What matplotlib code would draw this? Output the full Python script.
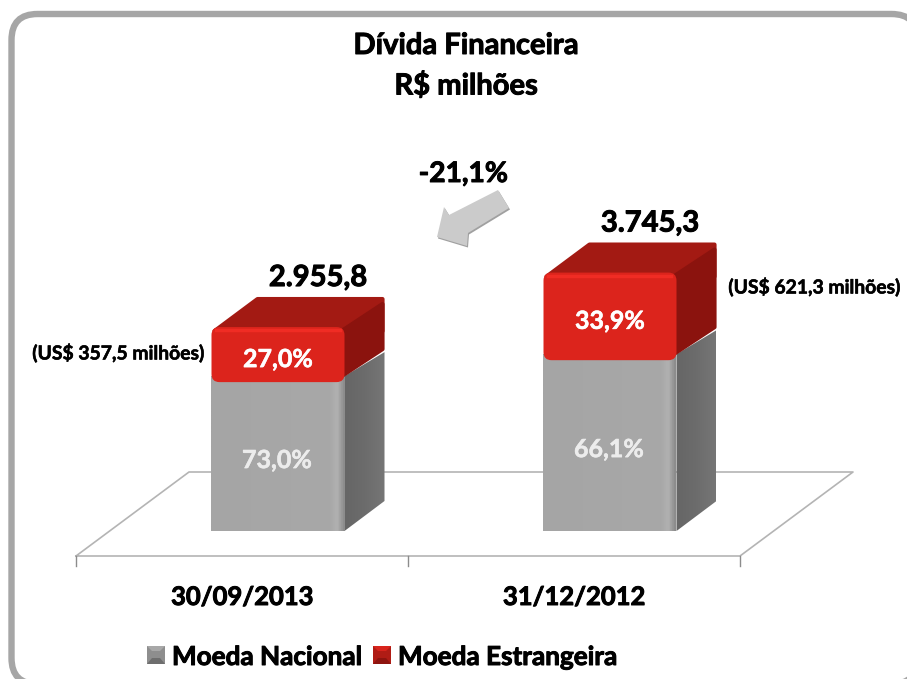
import matplotlib
matplotlib.use("Agg")
import matplotlib.pyplot as plt
import numpy as np
import matplotlib.patheffects as pe
from matplotlib.patches import FancyBboxPatch, Polygon
from matplotlib.colors import LinearSegmentedColormap

plt.rcParams['font.family'] = ['Lato', 'DejaVu Sans']
plt.rcParams['font.weight'] = 'bold'

categories = ["30/09/2013", "31/12/2012"]
totals = [2955.8, 3745.3]
total_labels = ["2.955,8", "3.745,3"]
share_nacional = [73.0, 66.1]
share_estrangeira = [27.0, 33.9]
nacional_labels = ["73,0%", "66,1%"]
estrangeira_labels = ["27,0%", "33,9%"]
usd_labels = ["(US$ 357,5 milhões)", "(US$ 621,3 milhões)"]
variation = "-21,1%"
legend_names = ["Moeda Nacional", "Moeda Estrangeira"]

W, H = 907, 679
PX_X = 1 / 332.0      # category units per pixel
PX_Y = 1 / 0.069      # value units per pixel
X0, Y0 = 76, 531      # pixel of x=0 and y=0

fig = plt.figure(figsize=(W / 100, H / 100), dpi=100, facecolor="white")

# pixel axes for frame and annotations
deco = fig.add_axes([0, 0, 1, 1], zorder=1)
deco.set_xlim(0, W)
deco.set_ylim(H, 0)
deco.axis("off")

# chart axes: categories on x, R$ millions on y
ax = fig.add_axes([0, 0, 1, 1], zorder=2)
ax.patch.set_alpha(0)
ax.axis("off")
xlim = (-X0 * PX_X, (W - X0) * PX_X)
ylim = ((Y0 - H) * PX_Y, Y0 * PX_Y)


def heavy(txt, color, width=0.7):
    # Lato bold is lighter than the original face
    txt.set_path_effects([pe.withStroke(linewidth=width, foreground=color)])
    return txt


deco.add_patch(FancyBboxPatch((11.5, 14), 906, 670, boxstyle="round,pad=0,rounding_size=26",
                              fc="white", ec="#a6a6a6", lw=4.6))

# floor and ticks
line_col = "#b4b4b4"
deco.plot([76, 189, 853, 740, 76], [556, 472, 472, 556, 556], color=line_col, lw=1.2)
for tx in [76, 408, 740]:
    deco.plot([tx, tx], [556, 566], color="#8c8c8c", lw=1)

depth_x = 40 * PX_X
depth_y = 30 * PX_Y
bar_w = 133 * PX_X
offset = 0.5 + 36 * PX_X - bar_w / 2

gray_cmap = LinearSegmentedColormap.from_list(
    "g", [(0, "#a5a5a5"), (0.9, "#a8a8a8"), (0.95, "#b2b2b2"), (1, "#8c8c8c")])
side_cmap = LinearSegmentedColormap.from_list("s", ["#666666", "#6c6c6c", "#767676"])


def gradient(x0, x1, y0, y1, cmap, clip):
    im = ax.imshow(np.linspace(0, 1, 64).reshape(1, -1), extent=(x0, x1, y0, y1),
                   aspect="auto", cmap=cmap, origin="lower", zorder=3)
    im.set_clip_path(clip)


for i in range(len(categories)):
    left = i + offset
    right = left + bar_w
    base = totals[i] * share_nacional[i] / 100
    top = totals[i]
    under = base + 6 * PX_Y

    # grey block
    side = Polygon([(right, 0), (right + depth_x, depth_y), (right + depth_x, base + depth_y), (right, under)],
                   closed=True, fc="none", ec="none", zorder=3)
    ax.add_patch(side)
    gradient(right, right + depth_x, 0, base + depth_y, side_cmap, side)
    front = Polygon([(left, 0), (right, 0), (right, under), (left, under)], closed=True, fc="none", ec="none", zorder=3)
    ax.add_patch(front)
    gradient(left, right, 0, under, gray_cmap, front)

    # red block
    ax.add_patch(Polygon([(left + 3 * PX_X, top - 4 * PX_Y), (left + 46 * PX_X, top + depth_y - 2 * PX_Y),
                          (right + depth_x - 2 * PX_X, top + depth_y - 2 * PX_Y),
                          (right + depth_x - 2 * PX_X, top - 4 * PX_Y)],
                         closed=True, fc="#a31a13", ec="#a31a13", lw=3, joinstyle="round", zorder=4))
    ax.add_patch(Polygon([(right - 6 * PX_X, top - 6 * PX_Y), (right + depth_x - 2 * PX_X, top + depth_y - 7 * PX_Y),
                          (right + depth_x - 2 * PX_X, base + depth_y + 3 * PX_Y), (right - 6 * PX_X, base + 4 * PX_Y)],
                         closed=True, fc="#8b130e", ec="#8b130e", lw=3, joinstyle="round", zorder=4))
    ax.add_patch(FancyBboxPatch((left, base), bar_w, top - base,
                                boxstyle="round,pad=0,rounding_size=%f" % (8 * PX_X),
                                mutation_aspect=PX_Y / PX_X, fc="#dc241c", ec="none", zorder=5))
    ax.plot([left + 5 * PX_X, right - 5 * PX_X], [top - 3 * PX_Y] * 2, color="#f02c24", lw=2.5, zorder=6)

    # labels
    cx = (left + right) / 2
    heavy(ax.text(cx - 1 * PX_X, base / 2 - 4 * PX_Y, nacional_labels[i], color="#ececec", fontsize=18,
                  ha="center", va="center", zorder=7), "#ececec", 0.4)
    heavy(ax.text(cx, base + (top - base) / 2 - 5 * PX_Y, estrangeira_labels[i], color="white", fontsize=18,
                  ha="center", va="center", zorder=7), "white", 0.4)
    heavy(ax.text(cx + 40 * PX_X, top + depth_y + 19 * PX_Y, total_labels[i], color="black", fontsize=21,
                  ha="center", va="center", zorder=7), "black")
    heavy(ax.text(i + 0.5, -(597 - Y0) * PX_Y, categories[i], color="black", fontsize=18.4,
                  ha="center", va="center", zorder=7), "black")

ax.set_xlim(xlim)
ax.set_ylim(ylim)

# titles and annotations
heavy(deco.text(466, 46, "Dívida Financeira", fontsize=21, ha="center", va="center", color="black"), "black")
heavy(deco.text(466, 86, "R$ milhões", fontsize=21, ha="center", va="center", color="black"), "black")
heavy(deco.text(463.5, 174, variation, fontsize=20.3, ha="center", va="center", color="black"), "black")
heavy(deco.text(118, 353, usd_labels[0], fontsize=13.9, ha="center", va="center", color="black"), "black", 0.4)
heavy(deco.text(814, 287, usd_labels[1], fontsize=13.9, ha="center", va="center", color="black"), "black", 0.4)

# arrow
arrow = [(437, 237), (444, 207), (449, 215), (498, 190), (509, 208), (468, 233), (467, 246)]
deco.add_patch(Polygon([(x + 1, y + 1.5) for x, y in arrow], closed=True, fc="#a0a0a0", ec="none"))
deco.add_patch(Polygon(arrow, closed=True, fc="#cbcbcb", ec="none"))

# legend
for lx, names, c1, c2, c3 in [(147, legend_names[0], "#a8a8a8", "#6e6e6e", "#8e8e8e"),
                              (373, legend_names[1], "#d8241c", "#8e140f", "#b01c15")]:
    deco.add_patch(Polygon([(lx, 646), (lx + 18, 646), (lx + 18, 664), (lx, 664)], fc=c3, ec="none"))
    deco.add_patch(Polygon([(lx, 646), (lx + 18, 646), (lx + 13, 651), (lx + 5, 651)], fc=c1, ec="none"))
    deco.add_patch(Polygon([(lx, 664), (lx + 18, 664), (lx + 13, 658), (lx + 5, 658)], fc=c2, ec="none"))
    heavy(deco.text(lx + 25, 657, names, fontsize=18.8, ha="left", va="center", color="black"), "black")

fig.savefig("out.png", dpi=100)
